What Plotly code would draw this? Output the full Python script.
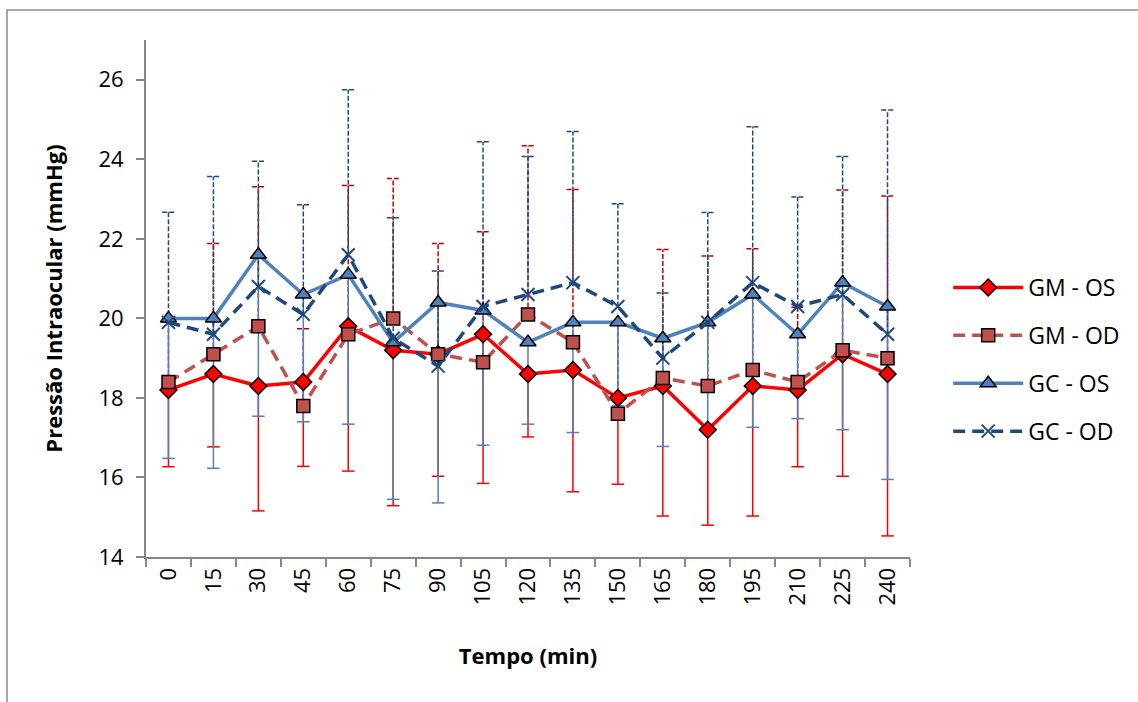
import plotly.graph_objects as go

# Tempo após a administração (min)
tempo = ["0", "15", "30", "45", "60", "75", "90", "105", "120",
         "135", "150", "165", "180", "195", "210", "225", "240"]

# Pressão intraocular média (mmHg)
gm_os = [18.2, 18.6, 18.3, 18.4, 19.8, 19.2, 19.1, 19.6, 18.6,
         18.7, 18.0, 18.3, 17.2, 18.3, 18.2, 19.1, 18.6]
gm_od = [18.4, 19.1, 19.8, 17.8, 19.6, 20.0, 19.1, 18.9, 20.1,
         19.4, 17.6, 18.5, 18.3, 18.7, 18.4, 19.2, 19.0]
gc_os = [20.0, 20.0, 21.6, 20.6, 21.1, 19.4, 20.4, 20.2, 19.4,
         19.9, 19.9, 19.5, 19.9, 20.6, 19.6, 20.9, 20.3]
gc_od = [19.9, 19.6, 20.8, 20.1, 21.6, 19.5, 18.8, 20.3, 20.6,
         20.9, 20.3, 19.0, 19.9, 20.9, 20.3, 20.6, 19.6]

# Desvios-padrão (OS para baixo, OD para cima)
gm_os_dp = [1.93, 1.83, 3.14, 2.12, 3.64, 3.91, 3.07, 3.75, 1.58,
            3.06, 2.17, 3.27, 2.40, 3.27, 1.93, 3.07, 4.07]
gm_od_dp = [1.50, 2.78, 3.51, 1.94, 3.74, 3.52, 2.78, 3.28, 4.24,
            3.84, 2.30, 3.23, 3.27, 3.05, 1.88, 4.03, 4.08]
gc_os_dp = [3.52, 3.77, 4.06, 3.20, 3.76, 3.95, 5.04, 3.39, 2.06,
            2.77, 2.10, 2.72, 2.60, 3.34, 2.12, 3.70, 4.35]
gc_od_dp = [2.77, 3.97, 3.15, 2.76, 4.15, 3.03, 2.39, 4.14, 3.47,
            3.80, 2.58, 1.64, 2.76, 3.92, 2.75, 3.47, 5.64]

y_ticks = [14, 16, 18, 20, 22, 24, 26]

FONT = "Open Sans"
pos = list(range(len(tempo)))
CAP = 0.14


def barras_erro(vals, dps, sentido, cor, traco):
    xs, ys = [], []
    for i, v, d in zip(pos, vals, dps):
        fim = v + sentido * d
        xs += [i, i, None, i - CAP, i + CAP, None]
        ys += [v, fim, None, fim, fim, None]
    return go.Scatter(x=xs, y=ys, mode="lines", showlegend=False,
                      hoverinfo="skip",
                      line=dict(color=cor, width=1.5, dash=traco))


fig = go.Figure()

# barras de erro (desenhadas por baixo das séries)
fig.add_trace(barras_erro(gm_os, gm_os_dp, -1, "#FF0000", "solid"))
fig.add_trace(barras_erro(gm_od, gm_od_dp, +1, "#C00000", "5px,2px"))
fig.add_trace(barras_erro(gc_os, gc_os_dp, -1, "#4F81BD", "solid"))
fig.add_trace(barras_erro(gc_od, gc_od_dp, +1, "#1F497D", "5px,2px"))

series = [
    ("GM - OS", gm_os, dict(color="#FF0000", width=3.5, dash="solid"),
     dict(symbol="diamond", size=13, color="#FF0000",
          line=dict(color="black", width=1.5))),
    ("GM - OD", gm_od, dict(color="#C0504D", width=3.5, dash="12px,7px"),
     dict(symbol="square", size=13, color="#C0504D",
          line=dict(color="black", width=1.5))),
    ("GC - OS", gc_os, dict(color="#4F81BD", width=3.5, dash="solid"),
     dict(symbol="triangle-up", size=14, color="#4F81BD",
          line=dict(color="black", width=1.5))),
    ("GC - OD", gc_od, dict(color="#1F497D", width=3.5, dash="12px,7px"),
     dict(symbol="x-thin", size=13, color="#1F497D",
          line=dict(color="#1F497D", width=2))),
]
for nome, vals, linha, marcador in series:
    fig.add_trace(go.Scatter(x=pos, y=vals, name=nome, legendgroup=nome,
                             mode="lines+markers", line=linha,
                             marker=marcador))

# moldura do gráfico
fig.add_shape(type="rect", xref="paper", yref="paper",
              x0=(7 - 146) / 764, x1=(1150 - 146) / 764,
              y0=(557 - 720) / 517, y1=(557 - 10) / 517,
              line=dict(color="#8C8C8C", width=1.5), layer="below")

fig.update_layout(
    width=1138, height=702,
    margin=dict(l=146, r=228, t=40, b=145),
    paper_bgcolor="white", plot_bgcolor="white",
    font=dict(family=FONT, size=22, color="black"),
    legend=dict(x=1.05, y=0.382, xanchor="left", yanchor="middle",
                font=dict(size=23), itemwidth=70, tracegroupgap=15,
                bgcolor="rgba(0,0,0,0)"),
    xaxis=dict(
        range=[-0.5, len(tempo) - 0.5], tickmode="array", tickvals=pos,
        ticktext=tempo, tickangle=-90, ticks="", showgrid=False,
        zeroline=False, showline=True, linecolor="#868686", linewidth=2,
        minor=dict(tickvals=[p - 0.5 for p in pos] + [len(tempo) - 0.5],
                   ticks="outside", ticklen=8, tickcolor="#868686",
                   tickwidth=1.5, showgrid=False),
        title=dict(text="Tempo (min)", standoff=44,
                   font=dict(size=22, weight="bold")),
    ),
    yaxis=dict(
        range=[14, 27], tickmode="array", tickvals=y_ticks,
        ticks="outside", ticklen=8, tickcolor="#868686", tickwidth=1.5,
        showgrid=False, zeroline=False, showline=True,
        linecolor="#868686", linewidth=2, ticklabelstandoff=8,
        title=dict(text="Pressão Intraocular (mmHg)", standoff=30,
                   font=dict(size=22, weight="bold")),
    ),
)

fig.write_html("out.html")
